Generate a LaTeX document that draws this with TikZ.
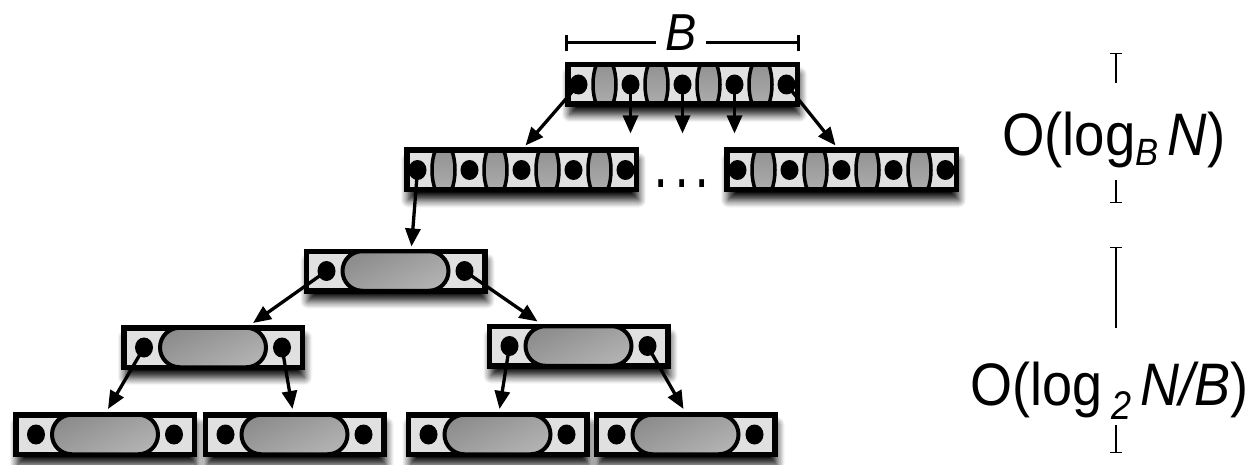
\documentclass[tikz,border=0pt]{standalone}
\usepackage{fontspec}
\setmainfont{Liberation Sans}
\usetikzlibrary{arrows.meta,shadows.blur,shapes.geometric}
\begin{document}
\begin{tikzpicture}[x=1pt,y=-1pt,
  nbox/.style={rectangle, draw=black, line width=5.5pt, fill=black!12, inner sep=0pt,
     minimum height=39.5pt,
     blur shadow={shadow xshift=2pt, shadow yshift=-10pt, shadow blur radius=8pt, shadow blur steps=8, shadow opacity=100}},
  widebox/.style={nbox, minimum width=229.5pt, path picture={
     \foreach \dx in {-78,-26,26,78}{
       \path[draw=black, line width=3.5pt, top color=black!45, bottom color=black!30]
         ([xshift=\dx pt]path picture bounding box.center) ellipse [x radius=11.5pt, y radius=28pt];}}},
  smallbox/.style={nbox, minimum width=178.5pt},
  pill/.style={rectangle, draw=black, line width=4pt, rounded corners=19.7pt, minimum width=106pt,
     minimum height=39.5pt, inner sep=0pt, top color=black!45, bottom color=black!30, shading angle=25},
  kdot/.style={ellipse, fill=black, inner sep=0pt, minimum width=18pt, minimum height=20pt},
  arr/.style={line width=3.3pt, -{Triangle[length=18pt, width=15pt]}},
  lab/.style={inner sep=0pt, font=\fontsize{60}{60}\selectfont},
  dimtop/.style={line width=1.4pt, {Bar[width=12pt]}-},
  dimbot/.style={line width=1.4pt, -{Bar[width=12pt]}}
]
\useasboundingbox (0,0) rectangle (1250,465);

% ---- wide nodes
\node[widebox] (T) at (682.5,84.5) {};
\node[widebox] (La) at (521.5,170) {};
\node[widebox] (Lb) at (841.5,170) {};
\foreach \n in {T,La,Lb}{
  \foreach \i/\dx in {1/-104,2/-52,3/0,4/52,5/104}
    \node[kdot] (\n\i) at ([xshift=\dx pt]\n.center) {};
}

% ---- small nodes
\foreach \n/\x/\y in {M/395.5/271, Pa/213/347.5, Pb/578.5/346,
                      Qa/105/434.5, Qb/294.5/434.5, Qc/497.5/434.5, Qd/685.5/434.5}{
  \node[smallbox] (\n) at (\x,\y) {};
  \node[pill] (\n p) at (\n.center) {};
  \node[kdot] (\n1) at ([xshift=-69pt]\n.center) {};
  \node[kdot] (\n2) at ([xshift=69pt]\n.center) {};
}

% ---- ellipsis
\node[inner sep=0pt, anchor=base, font=\fontsize{42}{42}\selectfont\bfseries] (dots) at (682,188) {\scalebox{0.8}[1.25]{.\,\,.\,\,.}};

% ---- B bracket
\node[inner xsep=9pt, inner ysep=0pt, anchor=base, font=\fontsize{52}{52}\selectfont\itshape] (Blab) at (681,51) {\scalebox{0.9}[1]{B}};
\coordinate (bl) at (565,43);
\coordinate (br) at (800,43);
\draw[line width=3pt, {Bar[width=16pt]}-] (bl) -- (bl -| Blab.west);
\draw[line width=3pt, -{Bar[width=16pt]}] (Blab.east |- br) -- (br);

% ---- arrows
\coordinate (T2e) at ([yshift=-49pt]T2.center);
\coordinate (T3e) at ([yshift=-49pt]T3.center);
\coordinate (T4e) at ([yshift=-49pt]T4.center);
\draw[arr] (T1.center) -- ([xshift=4pt,yshift=2pt]La.north);
\draw[arr] (T2.center) -- (T2e);
\draw[arr] (T3.center) -- (T3e);
\draw[arr] (T4.center) -- (T4e);
\draw[arr] (T5.center) -- ([xshift=-6pt,yshift=2pt]Lb.north);
\draw[arr] (La1.center) -- ([xshift=16pt,yshift=2pt]M.north);
\draw[arr] (M1.center) -- ([xshift=40pt,yshift=2pt]Pa.north);
\draw[arr] (M2.center) -- ([xshift=-41pt,yshift=2pt]Pb.north);
\draw[arr] (Pa1.center) -- ([xshift=3pt,yshift=3pt]Qa.north);
\draw[arr] (Pa2.center) -- ([xshift=-2pt,yshift=3pt]Qb.north);
\draw[arr] (Pb1.center) -- ([xshift=2pt,yshift=3pt]Qc.north);
\draw[arr] (Pb2.center) -- ([xshift=-2pt,yshift=3pt]Qd.north);

% ---- right labels
\node[lab, anchor=base west] (lab1) at (1002,156)
  {\scalebox{0.91}[1]{O(log\raisebox{-10pt}{\fontsize{38}{38}\selectfont\itshape B}\,\textit{N})}};
\node[lab, anchor=base west] (lab2) at (970,405)
  {\scalebox{0.9}[1]{O(log\,\raisebox{-14pt}{\fontsize{40}{40}\selectfont\itshape 2}\,\textit{N/B})}};

\coordinate (d1a) at (1116,53);
\coordinate (d1b) at (1116,83);
\coordinate (d1c) at (1116,180);
\coordinate (d1d) at (1116,203);
\coordinate (d2a) at (1116,247);
\coordinate (d2b) at (1116,328);
\coordinate (d2c) at (1116,425);
\coordinate (d2d) at (1116,453);
\draw[dimtop] (d1a) -- (d1b);
\draw[dimbot] (d1c) -- (d1d);
\draw[dimtop] (d2a) -- (d2b);
\draw[dimbot] (d2c) -- (d2d);
\end{tikzpicture}
\end{document}
